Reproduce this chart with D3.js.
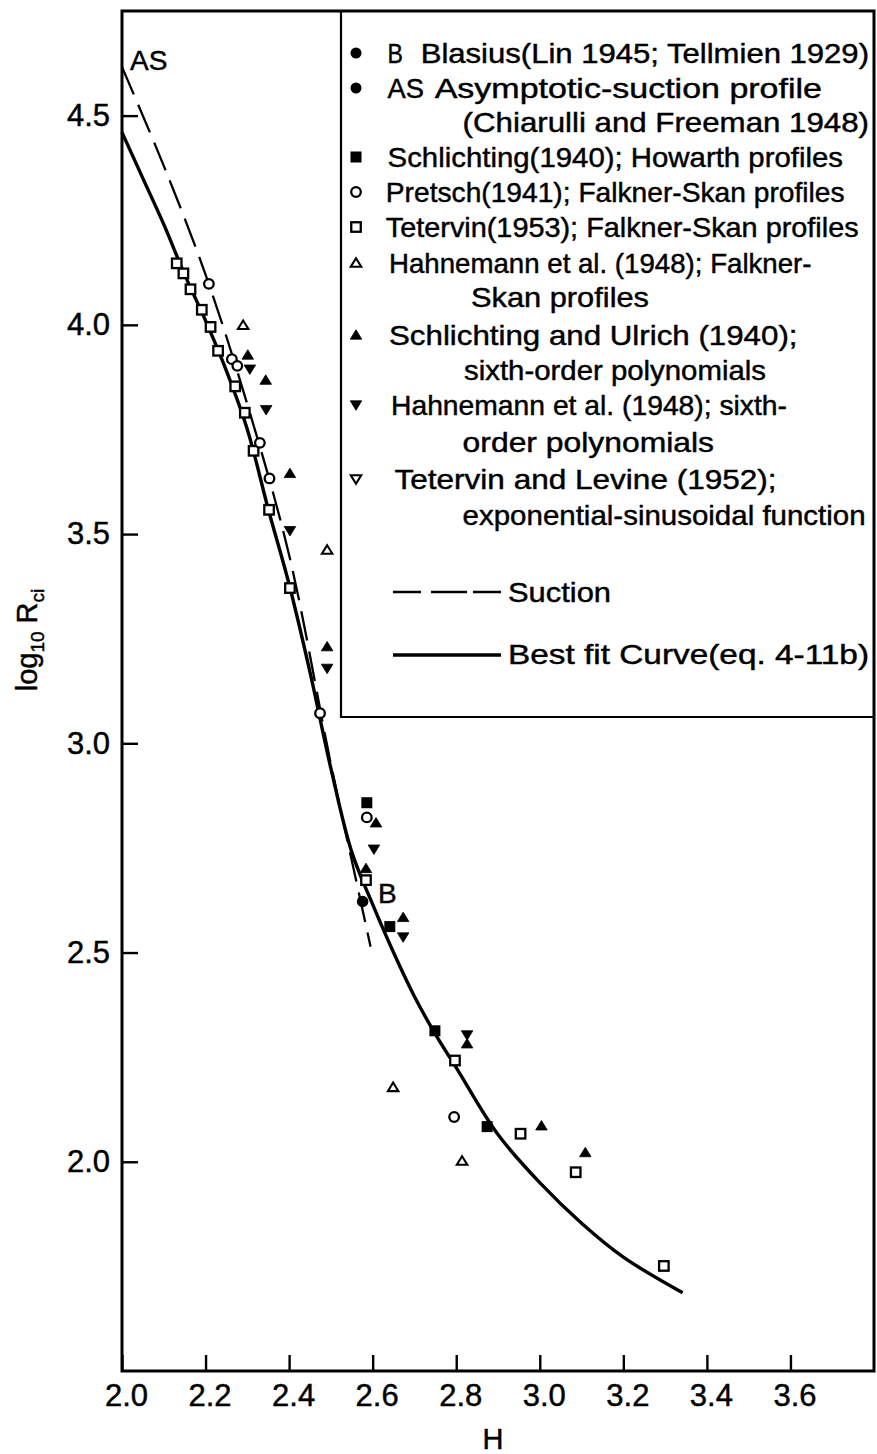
<!DOCTYPE html>
<html>
<head>
<meta charset="utf-8">
<script src="https://cdn.jsdelivr.net/npm/d3@7"></script>
<style>
  html, body { margin: 0; padding: 0; background: #fff; }
  svg { display: block; }
  text { font-family: "Liberation Sans", Arial, sans-serif; fill: #000; stroke: #000; stroke-width: 0.45px; }
</style>
</head>
<body>
<svg id="chart" width="877" height="1454"></svg>
<script>
// ---- axis ticks ----
const hTicks = [2.0, 2.2, 2.4, 2.6, 2.8, 3.0, 3.2, 3.4, 3.6];
const logTicks = [2.0, 2.5, 3.0, 3.5, 4.0, 4.5];

// ---- data points: [H, log10 Rci] ----
const blasius = [[2.576, 2.622]];
const schlichtingHowarth = [[2.586, 2.858], [2.641, 2.562], [2.749, 2.313], [2.874, 2.084]];
const pretsch = [[2.208, 4.098], [2.263, 3.918], [2.276, 3.902], [2.330, 3.718], [2.353, 3.633],
                 [2.474, 3.072], [2.586, 2.823], [2.795, 2.107]];
const tetervin = [[2.131, 4.147], [2.147, 4.123], [2.164, 4.085], [2.191, 4.036], [2.212, 3.995],
                  [2.230, 3.938], [2.271, 3.853], [2.294, 3.790], [2.315, 3.699], [2.352, 3.558],
                  [2.402, 3.371], [2.584, 2.673], [2.797, 2.242], [2.954, 2.067], [3.086, 1.975],
                  [3.297, 1.751]];
const hahnemannFS = [[2.290, 3.999], [2.491, 3.462], [2.649, 2.178], [2.814, 2.002]];
const schlichtingUlrich = [[2.301, 3.928], [2.344, 3.868], [2.402, 3.645], [2.491, 3.231],
                           [2.608, 2.810], [2.584, 2.701], [2.673, 2.584], [2.826, 2.282],
                           [3.004, 2.086], [3.109, 2.022]];
const hahnemannPoly = [[2.306, 3.894], [2.345, 3.797], [2.402, 3.508], [2.491, 3.179],
                       [2.603, 2.747], [2.673, 2.537], [2.826, 2.303]];

// ---- curves ----
const bestFitH = [2.00, 2.05, 2.10, 2.15, 2.20, 2.25, 2.30, 2.35, 2.40, 2.45, 2.50, 2.55,
                  2.60, 2.65, 2.70, 2.75, 2.80, 2.90, 3.00, 3.10, 3.20, 3.342];
const bestFitR = [4.46, 4.35, 4.24, 4.12, 4.01, 3.89, 3.75, 3.56, 3.38, 3.17, 2.94, 2.74,
                  2.615, 2.50, 2.395, 2.305, 2.225, 2.065, 1.950, 1.853, 1.772, 1.687];
const suctionH = [2.00, 2.10, 2.20, 2.30, 2.40, 2.50, 2.55, 2.595];
const suctionR = [4.616, 4.38, 4.12, 3.81, 3.45, 2.95, 2.72, 2.514];

// ---- legend text ----
const legendLines = [
  ["B", "Blasius(Lin 1945; Tellmien 1929)"],
  ["AS", "Asymptotic-suction profile"],
  ["(Chiarulli and Freeman 1948)"],
  ["Schlichting(1940); Howarth profiles"],
  ["Pretsch(1941); Falkner-Skan profiles"],
  ["Tetervin(1953); Falkner-Skan profiles"],
  ["Hahnemann et al. (1948); Falkner-"],
  ["Skan profiles"],
  ["Schlichting and Ulrich (1940);"],
  ["sixth-order polynomials"],
  ["Hahnemann et al. (1948); sixth-"],
  ["order polynomials"],
  ["Tetervin and Levine (1952);"],
  ["exponential-sinusoidal function"]
];
const legendMarks = ["dot", "dot", null, "sqFill", "circOpen", "sqOpen", "triUpOpen", null,
                     "triUpFill", null, "triDownFill", null, "triDownOpen", null];
const lineLabels = ["Suction", "Best fit Curve(eq. 4-11b)"];

// ---- layout ----
const W = 877, H = 1454;
const svg = d3.select("#chart");
svg.append("rect").attr("width", W).attr("height", H).attr("fill", "#fff");

const x = d3.scaleLinear().domain([2.0, 3.8]).range([122, 874]);
const y = d3.scaleLinear().domain([1.5, 4.75]).range([1371, 11]);

// marker shapes
function markPath(kind, s) {
  const h = s / 2;
  if (kind === "triUpFill" || kind === "triUpOpen")
    return `M0,${-h}L${h * 1.1},${h * 0.8}L${-h * 1.1},${h * 0.8}Z`;
  if (kind === "triDownFill" || kind === "triDownOpen")
    return `M0,${h}L${h * 1.1},${-h * 0.8}L${-h * 1.1},${-h * 0.8}Z`;
  return null;
}
function drawMark(g, kind, cx, cy, scale) {
  const k = scale || 1;
  if (kind === "dot") {
    g.append("circle").attr("cx", cx).attr("cy", cy).attr("r", 5.5 * k).attr("fill", "#000");
  } else if (kind === "circOpen") {
    g.append("circle").attr("cx", cx).attr("cy", cy).attr("r", 4.8 * k)
      .attr("fill", "#fff").attr("stroke", "#000").attr("stroke-width", 2.3);
  } else if (kind === "sqFill") {
    const s = 11 * k;
    g.append("rect").attr("x", cx - s / 2).attr("y", cy - s / 2).attr("width", s).attr("height", s)
      .attr("fill", "#000");
  } else if (kind === "sqOpen") {
    const s = 9.5 * k;
    g.append("rect").attr("x", cx - s / 2).attr("y", cy - s / 2).attr("width", s).attr("height", s)
      .attr("fill", "#fff").attr("stroke", "#000").attr("stroke-width", 2.3);
  } else {
    const open = kind.endsWith("Open");
    g.append("path").attr("d", markPath(kind, (open ? 9.5 : 10.5) * k))
      .attr("transform", `translate(${cx},${cy})`)
      .attr("fill", open ? "#fff" : "#000")
      .attr("stroke", "#000").attr("stroke-width", open ? 2.1 : 0.8)
      .attr("stroke-linejoin", "miter");
  }
}

// ---- axes ----
const fmt = d3.format(".1f");
const xAxis = svg.append("g").attr("transform", `translate(0,${y(1.5)})`)
  .call(d3.axisBottom(x).tickValues(hTicks).tickFormat(fmt).tickSize(-16).tickPadding(13));
const yAxis = svg.append("g").attr("transform", `translate(${x(2.0)},0)`)
  .call(d3.axisLeft(y).tickValues(logTicks).tickFormat(fmt).tickSize(-16).tickPadding(12));
[xAxis, yAxis].forEach(a => {
  a.select(".domain").remove();
  a.selectAll(".tick line").attr("stroke", "#000").attr("stroke-width", 2.4);
  a.selectAll(".tick text").attr("font-size", 31).attr("font-family", "Liberation Sans, Arial, sans-serif")
    .attr("fill", "#000");
});
xAxis.selectAll(".tick text").attr("dx", 4);

// frame
svg.append("rect")
  .attr("x", x(2.0)).attr("y", y(4.75))
  .attr("width", x(3.8) - x(2.0)).attr("height", y(1.5) - y(4.75))
  .attr("fill", "none").attr("stroke", "#000").attr("stroke-width", 3);

// axis titles
svg.append("text").attr("x", 493).attr("y", 1449).attr("text-anchor", "middle")
  .attr("font-size", 29).text("H");
const yt = svg.append("text").attr("transform", "translate(37,640) rotate(-90)")
  .attr("text-anchor", "middle").attr("font-size", 29);
yt.append("tspan").text("log");
yt.append("tspan").attr("font-size", 19).attr("dy", 7).text("10");
yt.append("tspan").attr("dy", -7).text(" R");
yt.append("tspan").attr("font-size", 19).attr("dy", 7).text("ci");

// ---- curves ----
const line = d3.line().x(d => x(d[0])).y(d => y(d[1])).curve(d3.curveCatmullRom.alpha(0.5));
const plot = svg.append("g");
plot.append("path").datum(d3.zip(suctionH, suctionR)).attr("d", line)
  .attr("fill", "none").attr("stroke", "#000").attr("stroke-width", 2.3)
  .attr("stroke-dasharray", "30,11");
plot.append("path").datum(d3.zip(bestFitH, bestFitR)).attr("d", line)
  .attr("fill", "none").attr("stroke", "#000").attr("stroke-width", 3.4);

// ---- points ----
const seriesList = [
  [tetervin, "sqOpen"],
  [pretsch, "circOpen"],
  [hahnemannFS, "triUpOpen"],
  [schlichtingHowarth, "sqFill"],
  [schlichtingUlrich, "triUpFill"],
  [hahnemannPoly, "triDownFill"],
  [blasius, "dot"]
];
seriesList.forEach(([pts, kind]) => {
  pts.forEach(p => drawMark(plot, kind, x(p[0]), y(p[1]), kind === "dot" ? 1.05 : 1));
});

// curve labels
svg.append("text").attr("x", 130).attr("y", 70).attr("font-size", 28).text("AS");
svg.append("text").attr("x", 378).attr("y", 903).attr("font-size", 28).text("B");

// ---- legend box ----
const legLeft = 341, legBottom = 717;
svg.append("path")
  .attr("d", `M${legLeft},${y(4.75)}V${legBottom}H${x(3.8)}`)
  .attr("fill", "none").attr("stroke", "#000").attr("stroke-width", 2.2);

const legBase = [63, 98, 132, 167, 202, 237, 273, 307, 345, 380, 415, 452, 489, 525];
const legSpans = [
  [[387.6, 403], [420.7, 869]],
  [[387.6, 424], [434.7, 822]],
  [[462.6, 869]],
  [[387.6, 843]],
  [[385.8, 844.6]],
  [[385.8, 858.6]],
  [[389, 811.5]],
  [[471, 649]],
  [[389, 797.5]],
  [[464, 766]],
  [[391, 787]],
  [[462.6, 714]],
  [[394.5, 776.6]],
  [[462.6, 865.6]]
];
const leg = svg.append("g");
legendLines.forEach((parts, i) => {
  parts.forEach((t, j) => {
    const [x0, x1] = legSpans[i][j];
    leg.append("text").attr("x", x0).attr("y", legBase[i]).attr("font-size", 28)
      .attr("textLength", x1 - x0).attr("lengthAdjust", "spacingAndGlyphs").text(t);
  });
  if (legendMarks[i]) drawMark(leg, legendMarks[i], 356, legBase[i] - 10, 1);
});

// line samples in legend
leg.append("path").attr("d", "M393,592H501").attr("stroke", "#000").attr("stroke-width", 2.3)
  .attr("stroke-dasharray", "28,10,36,6,30");
leg.append("text").attr("x", 508).attr("y", 602).attr("font-size", 28)
  .attr("textLength", 103).attr("lengthAdjust", "spacingAndGlyphs").text(lineLabels[0]);
leg.append("path").attr("d", "M393,655H501").attr("stroke", "#000").attr("stroke-width", 3.4);
leg.append("text").attr("x", 508).attr("y", 664).attr("font-size", 28)
  .attr("textLength", 361).attr("lengthAdjust", "spacingAndGlyphs").text(lineLabels[1]);
</script>
</body>
</html>
